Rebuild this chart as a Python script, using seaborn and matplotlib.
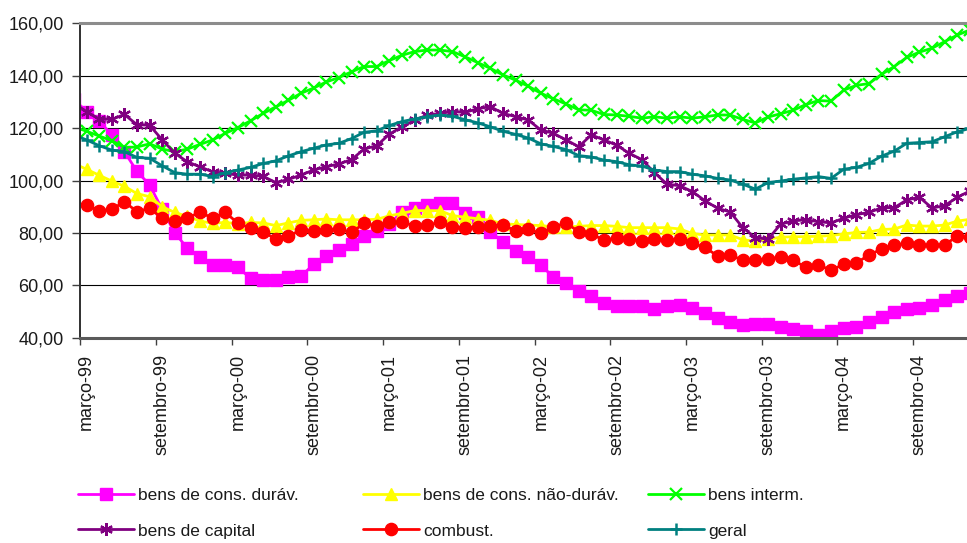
import matplotlib
matplotlib.use("Agg")
import matplotlib.pyplot as plt
from matplotlib.lines import Line2D
import seaborn as sns

# Month index: -1 = fevereiro-99, 0 = março-99 ... 70 = janeiro-05
meses = list(range(-1, 71))

bens_cons_duraveis = [
    131.0, 126.3, 122.8, 117.4, 111.0, 103.5, 98.3, 89.0, 80.0, 74.1,
    70.8, 67.6, 67.6, 66.8, 62.7, 62.0, 62.0, 63.2, 63.5, 68.0,
    71.2, 73.5, 75.6, 79.0, 80.8, 83.5, 88.0, 89.4, 90.8, 91.5,
    91.5, 87.5, 86.0, 80.5, 76.5, 73.0, 70.9, 67.8, 63.0, 60.8,
    58.0, 56.0, 53.4, 52.2, 52.2, 52.0, 50.8, 52.0, 52.5, 51.3,
    49.6, 47.7, 46.0, 44.8, 45.4, 45.2, 44.0, 43.5, 42.5, 41.2,
    42.5, 43.6, 44.2, 46.0, 48.0, 50.0, 51.0, 51.5, 52.5, 54.5,
    55.8, 57.0,
]
bens_cons_nao_duraveis = [
    106.5, 104.3, 102.0, 99.8, 97.8, 95.0, 93.8, 90.0, 87.8, 86.3,
    84.5, 83.7, 84.0, 83.5, 84.0, 83.8, 82.8, 83.8, 84.8, 85.0,
    85.3, 85.0, 85.0, 85.0, 85.2, 86.5, 87.5, 88.5, 88.5, 88.5,
    86.6, 86.0, 85.4, 84.8, 83.5, 83.2, 83.0, 82.8, 82.3, 82.3,
    82.5, 82.8, 82.8, 82.5, 82.0, 82.0, 82.0, 82.0, 81.5, 79.8,
    79.2, 79.2, 79.2, 77.4, 76.8, 77.5, 78.4, 78.5, 78.6, 78.7,
    79.0, 79.6, 80.2, 80.3, 81.3, 81.5, 83.0, 82.6, 82.6, 83.0,
    84.5, 85.2,
]
bens_intermediarios = [
    120.5, 118.8, 117.0, 115.2, 112.6, 112.8, 114.0, 112.0, 111.0, 112.0,
    113.8, 115.5, 118.0, 120.2, 122.8, 125.6, 128.1, 130.6, 133.3, 135.3,
    137.6, 139.3, 141.5, 143.5, 143.5, 145.8, 147.8, 149.2, 149.8, 149.8,
    149.2, 147.2, 145.0, 142.8, 140.3, 138.3, 136.0, 133.3, 131.2, 129.2,
    127.0, 126.8, 125.2, 125.0, 124.5, 123.8, 124.3, 123.8, 124.3, 123.8,
    124.3, 125.0, 125.0, 123.3, 122.0, 124.2, 125.5, 126.8, 129.0, 130.5,
    130.3, 134.5, 136.3, 137.0, 140.5, 143.5, 147.0, 149.0, 150.5, 153.0,
    155.5, 157.5,
]
bens_capital = [
    129.5, 126.3, 123.5, 123.3, 125.2, 121.3, 121.1, 115.5, 110.4, 107.1,
    105.2, 103.3, 102.8, 102.0, 102.1, 101.6, 99.2, 100.4, 102.1, 104.0,
    105.3, 106.3, 108.0, 112.0, 113.3, 117.7, 120.5, 123.0, 125.0, 125.6,
    126.3, 126.0, 127.4, 128.2, 125.6, 124.4, 123.1, 119.3, 118.0, 115.5,
    112.9, 117.4, 115.5, 113.5, 110.4, 108.0, 103.0, 98.6, 98.0, 95.8,
    92.3, 89.4, 88.0, 82.0, 78.2, 77.6, 83.3, 84.6, 85.0, 84.3,
    83.8, 85.6, 87.0, 87.8, 89.6, 89.6, 92.6, 93.6, 89.5, 90.4,
    93.6, 96.0,
]
combustiveis = [
    91.3, 90.6, 88.5, 89.0, 91.9, 88.1, 89.4, 85.6, 84.5, 85.8,
    87.8, 85.7, 87.8, 83.7, 81.8, 80.5, 77.6, 78.8, 81.1, 80.6,
    81.0, 81.4, 80.2, 83.6, 82.7, 84.0, 84.0, 82.8, 83.0, 84.0,
    82.4, 81.8, 82.4, 82.7, 83.0, 80.8, 81.4, 79.8, 82.4, 83.7,
    80.5, 79.5, 77.3, 78.0, 77.8, 77.0, 77.5, 77.3, 77.6, 76.0,
    74.5, 71.2, 71.4, 69.7, 69.8, 70.0, 70.9, 69.7, 66.8, 67.7,
    65.8, 68.0, 68.5, 71.6, 73.8, 75.4, 76.0, 75.4, 75.4, 75.4,
    78.8, 78.3,
]
geral = [
    117.4, 115.5, 113.3, 111.6, 111.0, 108.8, 108.5, 105.6, 103.0, 102.4,
    102.4, 101.5, 103.0, 104.0, 105.0, 106.5, 107.5, 109.4, 111.0, 112.3,
    113.6, 114.2, 116.0, 118.4, 119.0, 121.0, 122.5, 123.5, 124.4, 125.0,
    124.5, 123.2, 122.0, 120.5, 118.8, 117.6, 116.2, 114.0, 113.0, 111.8,
    109.5, 109.0, 107.8, 107.2, 106.0, 105.5, 104.0, 103.4, 103.4, 102.4,
    101.8, 100.8, 100.2, 98.6, 96.7, 99.2, 99.8, 100.5, 101.0, 101.5,
    100.8, 104.3, 105.0, 106.5, 109.3, 111.2, 114.2, 114.5, 114.8, 116.7,
    118.6, 119.9,
]

rotulos_x = ["março-99", "setembro-99", "março-00", "setembro-00",
             "março-01", "setembro-01", "março-02", "setembro-02",
             "março-03", "setembro-03", "março-04", "setembro-04"]
valores_y = [40, 60, 80, 100, 120, 140, 160]

series = [
    ("bens de cons. duráv.", bens_cons_duraveis, "#FF00FF", "s", 8.8, 1.0),
    ("bens de cons. não-duráv.", bens_cons_nao_duraveis, "#FFFF00", "^", 8.8, 1.0),
    ("bens interm.", bens_intermediarios, "#00FF00", "x", 8.8, 1.6),
    ("bens de capital", bens_capital, "#800080", (6, 2, 0), 9.2, 1.6),
    ("combust.", combustiveis, "#FF0000", "o", 8.8, 1.0),
    ("geral", geral, "#008080", "+", 9.2, 1.8),
]

sns.set_style("white")
plt.rcParams["font.family"] = ["Liberation Sans", "DejaVu Sans"]
texto = "#1a1a1a"

W, H = 967, 543
fig = plt.figure(figsize=(W / 100, H / 100), dpi=100)
px_mes = 12.62
x0, y_top, y_bot = 80.2, 23.3, 337.7
ax = fig.add_axes([x0 / W, (H - y_bot) / H, 71 * px_mes / W, (y_bot - y_top) / H])

handles = []
for nome, vals, cor, mk, ms, mew in series:
    sns.lineplot(x=meses, y=vals, ax=ax, color=cor, linewidth=2.0,
                 marker=mk, markersize=ms, markeredgecolor=cor,
                 markerfacecolor=cor, markeredgewidth=mew, legend=False,
                 estimator=None, sort=False)
    handles.append(Line2D([], [], color=cor, linewidth=2.0, marker=mk,
                          markersize=ms, markeredgecolor=cor,
                          markerfacecolor=cor, markeredgewidth=mew,
                          label=nome))

ax.set_xlim(-0.5, 70.5)
ax.set_ylim(40, 160)
ax.set_xlabel("")
ax.set_ylabel("")

# y axis
ax.set_yticks(valores_y)
ax.set_yticklabels([f"{v:.2f}".replace(".", ",") for v in valores_y])
ax.yaxis.grid(True, color="black", linewidth=0.8)
ax.set_axisbelow(True)
ax.tick_params(axis="y", direction="out", length=6, width=1.0,
               color="#404040", pad=6, labelsize=13, labelcolor=texto, left=True)

# x axis: tick marks between categories, labels centred on categories
ax.set_xticks([-0.5 + 6 * k for k in range(12)])
ax.set_xticklabels([])
ax.set_xticks([6 * k for k in range(len(rotulos_x))], minor=True)
ax.set_xticklabels(rotulos_x, minor=True, rotation=90, va="top", ha="center")
ax.tick_params(axis="x", which="major", direction="out", length=5, width=1.0,
               color="#404040", bottom=True)
ax.tick_params(axis="x", which="minor", length=0, pad=12, labelsize=13,
               labelcolor=texto)
ax.xaxis.grid(False)

for lado, cor, lw in [("top", "#8c8c8c", 2.2), ("bottom", "#5a5a5a", 2.2),
                      ("left", "#303030", 1.4), ("right", "#8c8c8c", 2.2)]:
    ax.spines[lado].set_visible(True)
    ax.spines[lado].set_color(cor)
    ax.spines[lado].set_linewidth(lw)

# legend: three columns, two rows
colunas_x = [78, 363, 648]
for c in range(3):
    leg = fig.legend(handles=[handles[c], handles[c + 3]], loc="center left",
                     bbox_to_anchor=(colunas_x[c] / W, 1 - 513 / H),
                     frameon=False, fontsize=12.5, handlelength=3.2,
                     handletextpad=0.25, labelspacing=1.2, borderpad=0,
                     borderaxespad=0)
    for t in leg.get_texts():
        t.set_color(texto)

fig.savefig("out.png", dpi=100)
